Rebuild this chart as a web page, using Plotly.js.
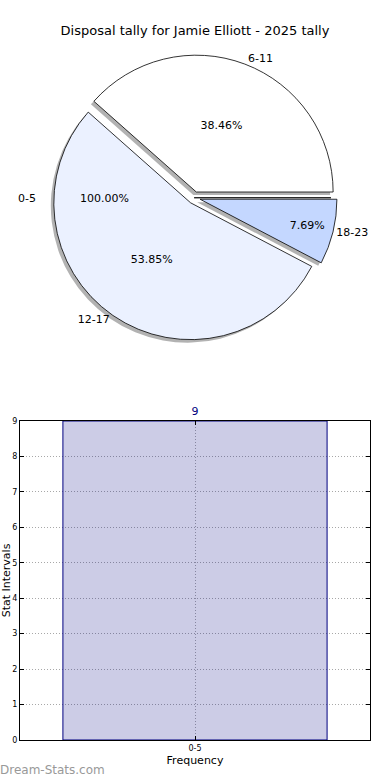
<!DOCTYPE html>
<html>
<head>
<meta charset="utf-8">
<script src="https://cdn.plot.ly/plotly-3.0.1.min.js"></script>
<style>html,body{margin:0;padding:0;background:#fff;}#chart{width:390px;height:780px;}</style>
</head>
<body>
<div id="chart"></div>
<script>
// Pie data
const pieLabels = ['0-5', '6-11', '12-17', '18-23'];
const pieValues = [0, 5, 7, 1];
const pieColors = ['#ffffff', '#ffffff', '#ebf1ff', '#c4d7ff'];
const zeroSliceLabel = '0-5';
const zeroSlicePct = '100.00%';

// Bar data
const barCategories = ['0-5'];
const barValues = [9];
const yTicks = [0, 1, 2, 3, 4, 5, 6, 7, 8, 9];

const font = 'DejaVu Sans, Verdana, sans-serif';
const pull = [0, 0.045, 0.045, 0.045];
const dom = {x: [0.089, 0.906], y: [0.5395, 0.926]};
const sx = 3 / 350, sy = 3 / 740;

const pctText = pieValues.map((v, i) => v > 0 ? (100 * v / pieValues.reduce((a, b) => a + b, 0)).toFixed(2) + '%' : '');
const lblText = pieValues.map((v, i) => v > 0 ? pieLabels[i] : '');

const shadow = {
  type: 'pie', labels: pieLabels, values: pieValues, sort: false,
  direction: 'counterclockwise', rotation: 90, pull: pull,
  marker: {colors: pieValues.map(() => 'rgba(0,0,0,0.3)'), line: {width: 0}},
  textinfo: 'none', hoverinfo: 'skip', showlegend: false,
  domain: {x: [dom.x[0] - sx, dom.x[1] - sx], y: [dom.y[0] - sy, dom.y[1] - sy]}
};
const main = {
  type: 'pie', labels: pieLabels, values: pieValues, sort: false,
  direction: 'counterclockwise', rotation: 90, pull: pull,
  marker: {colors: pieColors, line: {color: '#000', width: 0.8}},
  text: pctText, textinfo: 'text', textposition: 'inside', insidetextorientation: 'horizontal',
  textfont: {family: font, size: 11, color: '#000'},
  hoverinfo: 'skip', showlegend: false, domain: dom
};
const labelsTrace = {
  type: 'pie', labels: pieLabels, values: pieValues, sort: false,
  direction: 'counterclockwise', rotation: 90, pull: pull,
  marker: {colors: pieValues.map(() => 'rgba(0,0,0,0)'), line: {width: 0}},
  text: lblText, textinfo: 'text', textposition: 'outside',
  outsidetextfont: {family: font, size: 11, color: '#000'},
  hoverinfo: 'skip', showlegend: false, domain: dom
};
const bar = {
  type: 'bar', x: barCategories, y: barValues, width: 0.8,
  marker: {color: 'rgba(0,0,128,0.2)', line: {color: '#000080', width: 1}},
  text: barValues.map(String), textposition: 'outside', cliponaxis: false,
  textfont: {family: font, size: 11, color: '#000080'},
  hoverinfo: 'skip', showlegend: false, xaxis: 'x', yaxis: 'y'
};

const layout = {
  width: 390, height: 780,
  margin: {l: 20, r: 20, t: 0, b: 40},
  paper_bgcolor: '#fff', plot_bgcolor: '#fff',
  font: {family: font, color: '#000'},
  title: {text: 'Disposal tally for Jamie Elliott - 2025 tally', font: {family: font, size: 13, color: '#000'},
          x: 0.5, xanchor: 'center', y: 1 - 30 / 780, yanchor: 'middle', yref: 'container'},
  xaxis: {
    domain: [0, 1], range: [-0.53, 0.53], type: 'category',
    showline: true, linecolor: '#000', linewidth: 1, mirror: 'ticks',
    ticks: 'inside', ticklen: 4, tickcolor: '#000',
    showgrid: true, gridcolor: '#a8a8a8', griddash: '1px,2px', gridwidth: 1,
    tickfont: {family: font, size: 8}, zeroline: false,
    title: {text: 'Frequency', font: {family: font, size: 11}, standoff: 4}
  },
  yaxis: {
    domain: [0, 0.4311], range: [0, 9], tickvals: yTicks,
    showline: true, linecolor: '#000', linewidth: 1, mirror: 'ticks',
    ticks: 'inside', ticklen: 4, tickcolor: '#000',
    showgrid: true, gridcolor: '#a8a8a8', griddash: '1px,2px', gridwidth: 1,
    tickfont: {family: font, size: 8}, zeroline: false,
    title: {text: 'Stat Intervals', font: {family: font, size: 11}, standoff: 2}
  },
  annotations: [
    {text: zeroSliceLabel, xref: 'paper', yref: 'paper', x: 27 / 350 - 20 / 350, y: (740 - 198) / 740,
     showarrow: false, font: {family: font, size: 11}, xanchor: 'center', yanchor: 'middle'},
    {text: zeroSlicePct, xref: 'paper', yref: 'paper', x: (104 - 20) / 350, y: (740 - 198) / 740,
     showarrow: false, font: {family: font, size: 11}, xanchor: 'center', yanchor: 'middle'},
    {text: 'Dream-Stats.com', xref: 'paper', yref: 'paper', x: -22 / 350, y: (740 - 770) / 740,
     showarrow: false, font: {family: font, size: 12, color: '#999'}, xanchor: 'left', yanchor: 'middle'}
  ]
};

Plotly.newPlot('chart', [shadow, main, labelsTrace, bar], layout, {displayModeBar: false, staticPlot: true});
</script>
</body>
</html>
